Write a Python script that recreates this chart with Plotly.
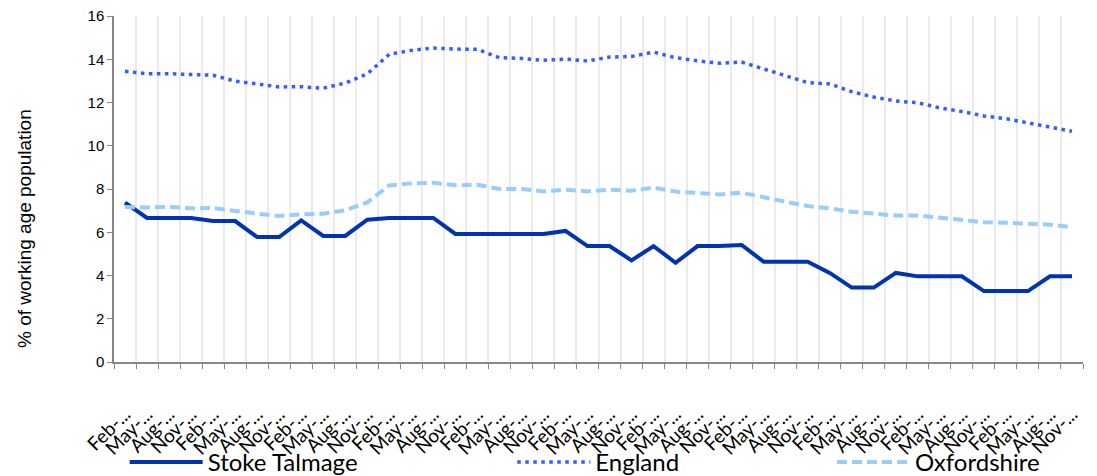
import plotly.graph_objects as go

categories = [f"{m}-{y:02d}" for y in range(6, 17) for m in ["Feb", "May", "Aug", "Nov"]]
tick_labels = [c.split("-")[0] + "-..." for c in categories]

stoke_talmage = [7.37, 6.66, 6.66, 6.66, 6.52, 6.52, 5.78, 5.78, 6.55, 5.83, 5.83,
                 6.58, 6.66, 6.66, 6.66, 5.92, 5.92, 5.92, 5.92, 5.92, 6.06,
                 5.36, 5.36, 4.70, 5.36, 4.59, 5.36, 5.36, 5.41, 4.64, 4.64, 4.64,
                 4.12, 3.44, 3.44, 4.12, 3.96, 3.96, 3.96, 3.28, 3.28, 3.28, 3.96, 3.96]
england = [13.44, 13.33, 13.33, 13.29, 13.26, 12.99, 12.87, 12.72, 12.73, 12.66, 12.90,
           13.32, 14.23, 14.41, 14.52, 14.47, 14.46, 14.07, 14.04, 13.95, 14.01,
           13.92, 14.10, 14.13, 14.33, 14.07, 13.93, 13.81, 13.87, 13.55, 13.21, 12.92,
           12.86, 12.50, 12.25, 12.07, 11.99, 11.75, 11.58, 11.38, 11.25, 11.07, 10.88, 10.67]
oxfordshire = [7.17, 7.14, 7.17, 7.11, 7.12, 6.98, 6.86, 6.75, 6.83, 6.86, 7.01,
               7.38, 8.17, 8.26, 8.29, 8.17, 8.20, 8.00, 8.00, 7.89, 7.97,
               7.89, 7.97, 7.92, 8.06, 7.88, 7.80, 7.75, 7.83, 7.60, 7.41, 7.21,
               7.11, 6.95, 6.86, 6.77, 6.78, 6.66, 6.55, 6.46, 6.44, 6.38, 6.35, 6.23]
y_ticks = [0, 2, 4, 6, 8, 10, 12, 14, 16]
y_title = "% of working age population"

fig = go.Figure()
fig.add_trace(go.Scatter(x=categories, y=stoke_talmage, mode="lines", name="Stoke Talmage",
                         line=dict(color="#0033b4", width=4), legend="legend", showlegend=True))
fig.add_trace(go.Scatter(x=categories, y=england, mode="lines", name="England",
                         line=dict(color="#2f5fff", width=3.5, dash="3.5px,4.5px"),
                         legend="legend2", showlegend=True))
fig.add_trace(go.Scatter(x=categories, y=oxfordshire, mode="lines", name="Oxfordshire",
                         line=dict(color="#99ccff", width=4, dash="10px,5px"),
                         legend="legend3", showlegend=True))

leg_common = dict(orientation="h", yanchor="middle", xanchor="left", y=-0.29,
                  font=dict(family="Lato, Open Sans, sans-serif", size=24, color="#000000"),
                  bgcolor="rgba(0,0,0,0)", itemwidth=73, tracegroupgap=0, visible=True)

# The page body has an 8px margin, so the figure is sized and offset to compensate.
fig.update_layout(
    width=1089, height=468,
    showlegend=True,
    margin=dict(l=106, r=14, t=8, b=114, autoexpand=False),
    paper_bgcolor="white", plot_bgcolor="white",
    legend=dict(x=0.011, **leg_common),
    legend2=dict(x=0.411, **leg_common),
    legend3=dict(x=0.741, **leg_common),
    xaxis=dict(
        type="category", categoryorder="array", categoryarray=categories,
        tickvals=categories, ticktext=tick_labels, tickangle=-45,
        tickson="boundaries", ticks="outside", ticklen=5, tickcolor="#888888",
        showline=True, linecolor="#888888", linewidth=1.5,
        showgrid=True, gridcolor="#ebebeb", gridwidth=1.5,
        ticklabelstandoff=32, automargin=False,
        tickfont=dict(family="Lato, Open Sans, sans-serif", size=19, color="#000000"),
        range=[-0.5, len(categories) - 0.5],
    ),
    yaxis=dict(
        range=[0, 16], tickvals=y_ticks, ticks="outside", ticklen=5, tickcolor="#888888",
        showline=True, linecolor="#888888", linewidth=1.5, showgrid=False, zeroline=False,
        automargin=False, ticklabeloverflow="allow",
        tickfont=dict(family="Liberation Sans, Arial, sans-serif", size=15, color="#000000"),
    ),
    annotations=[dict(text=y_title, xref="paper", yref="paper", x=-0.093, y=0.387,
                      xanchor="center", yanchor="middle", textangle=-90, showarrow=False,
                      font=dict(family="Liberation Sans, Arial, sans-serif", size=19, color="#000000"))],
)

fig.write_html("out.html")
